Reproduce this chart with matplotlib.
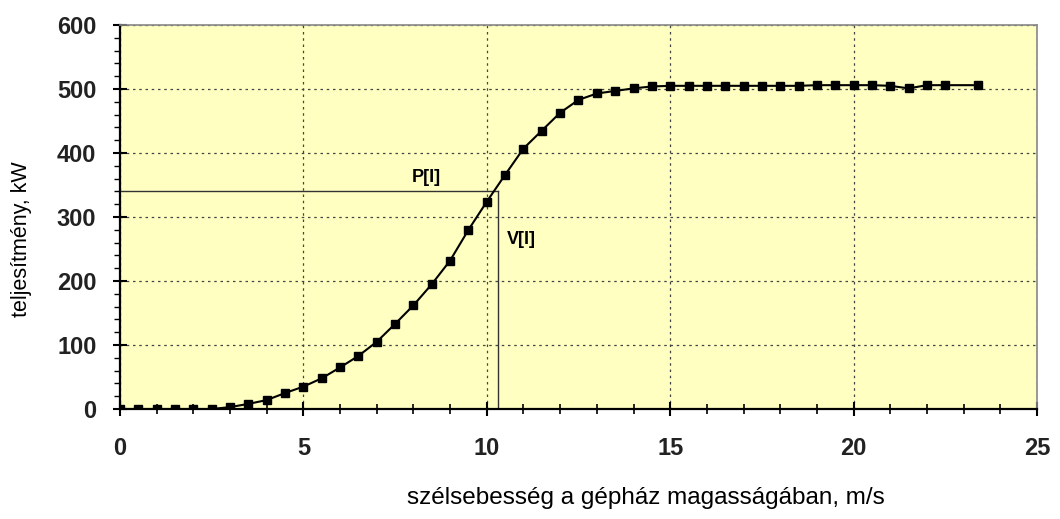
import numpy as np
import matplotlib.pyplot as plt
from matplotlib.ticker import MultipleLocator

# wind speed (m/s) and power (kW)
speed = [0.0, 0.5, 1.0, 1.5, 2.0, 2.5, 3.0, 3.5, 4.0, 4.5,
         5.0, 5.5, 6.0, 6.5, 7.0, 7.5, 8.0, 8.5, 9.0, 9.5,
         10.0, 10.5, 11.0, 11.5, 12.0, 12.5, 13.0, 13.5, 14.0, 14.5,
         15.0, 15.5, 16.0, 16.5, 17.0, 17.5, 18.0, 18.5, 19.0, 19.5,
         20.0, 20.5, 21.0, 21.5, 22.0, 22.5, 23.4]
power = [0, 0, 0, 0, 0, 0, 3, 8, 14, 25,
         35, 48, 65, 83, 105, 133, 162, 195, 232, 280,
         324, 366, 407, 435, 463, 483, 493, 497, 501, 504,
         505, 505, 505, 505, 505, 505, 505, 505, 506, 506,
         506, 506, 505, 501, 506, 506, 506]

# marked operating point
v_i = 10.3
p_i = 340

FONT = "Liberation Sans"

fig = plt.figure(figsize=(10.6, 5.19), dpi=100)
ax = fig.add_axes([0.1132, 0.2119, 0.8651, 0.7399])
ax.set_facecolor("#FFFFC2")

ax.plot(speed, power, color="black", lw=1.5, marker="s", ms=5.2, zorder=3)

ax.plot([0, v_i], [p_i, p_i], color="#333333", lw=1.0, zorder=2)
ax.plot([v_i, v_i], [0, p_i], color="#333333", lw=1.0, zorder=2)
ax.text(8.35, 362, "P[I]", fontsize=13, family=FONT, fontweight="bold", ha="center", va="center")
ax.text(10.94, 265, "V[I]", fontsize=13, family=FONT, fontweight="bold", ha="center", va="center")

ax.set_xlim(0, 25)
ax.set_ylim(0, 600)
ax.xaxis.set_major_locator(MultipleLocator(5))
ax.xaxis.set_minor_locator(MultipleLocator(1))
ax.yaxis.set_major_locator(MultipleLocator(100))
ax.yaxis.set_minor_locator(MultipleLocator(20))
ax.grid(True, which="major", color="#444444", ls=(0, (2, 3)), lw=0.9)

ax.tick_params(axis="x", which="major", direction="inout", length=10, width=1.5, pad=15)
ax.tick_params(axis="x", which="minor", direction="inout", length=7, width=1.2)
ax.tick_params(axis="y", which="major", direction="inout", length=10, width=1.5, pad=12)
ax.tick_params(axis="y", which="minor", direction="out", length=4, width=1.0)
for lab in ax.get_xticklabels() + ax.get_yticklabels():
    lab.set_fontfamily(FONT)
    lab.set_fontweight("bold")
    lab.set_fontsize(17)
    lab.set_color("#222222")

for side in ["top", "right"]:
    ax.spines[side].set_color("#888888")
    ax.spines[side].set_linewidth(1.2)
for side in ["left", "bottom"]:
    ax.spines[side].set_color("black")
    ax.spines[side].set_linewidth(1.6)

ax.set_xlabel("szélsebesség a gépház magasságában, m/s", fontsize=17.5, family=FONT, va="center")
ax.xaxis.set_label_coords(0.573, -0.232)
ax.set_ylabel("teljesítmény, kW", fontsize=15.5, family=FONT, va="center")
ax.yaxis.set_label_coords(-0.107, 0.443)

fig.savefig("out.png", dpi=100)
